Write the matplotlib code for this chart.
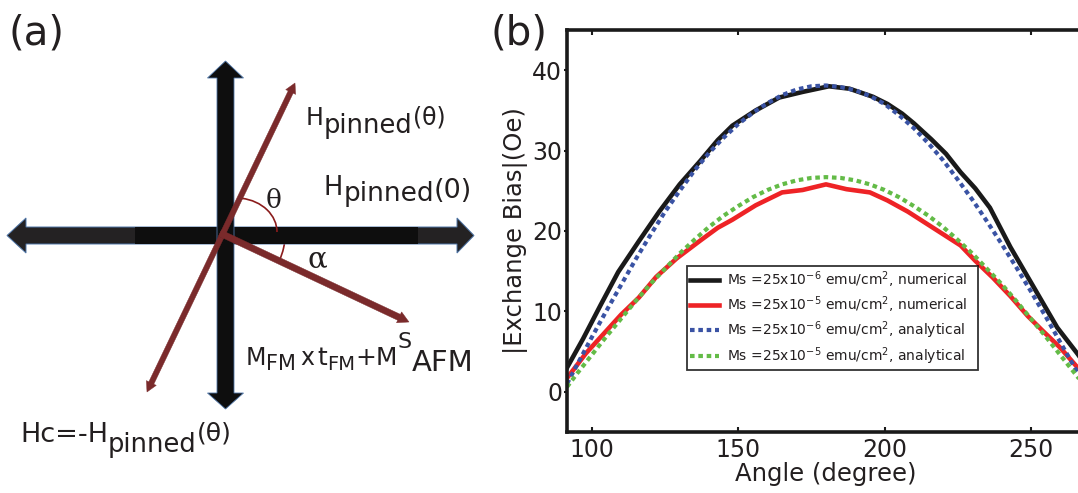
import numpy as np
import matplotlib
matplotlib.use("Agg")
import matplotlib.pyplot as plt
from matplotlib.patches import Polygon, Rectangle, FancyArrow, Arc

# ---- panel (b) data ----
ang_num_lo = [91.5, 97, 103, 109, 116, 123, 130, 137, 143, 148, 156, 164, 172, 181,
              188, 196, 201, 206, 210, 216, 221, 226, 231, 236, 243, 251, 259, 266, 268.5]
exb_num_lo = [3.0, 6.6, 10.8, 14.9, 18.7, 22.4, 25.8, 28.7, 31.3, 33.1, 35.0, 36.6, 37.3, 38.0,
              37.7, 36.7, 35.8, 34.6, 33.4, 31.4, 29.6, 27.3, 25.3, 22.9, 18.0, 13.0, 8.0, 4.7, 3.4]

ang_num_hi = [91.5, 98, 104, 110, 116, 122, 129, 137, 143, 148, 156, 165, 172, 180,
              187, 195, 201, 208, 217, 226, 231, 237, 243, 249, 254, 260, 266, 268.5]
exb_num_hi = [1.7, 4.8, 7.2, 9.6, 11.7, 14.3, 16.6, 18.8, 20.4, 21.4, 23.2, 24.8, 25.1, 25.8,
              25.2, 24.8, 23.8, 22.4, 20.3, 18.2, 16.3, 14.2, 11.9, 9.4, 7.6, 5.5, 3.0, 2.1]

ang_ana = [91.5, 95, 100, 105, 110, 115, 120, 125, 130, 135, 140, 145, 150, 155, 160, 165,
           170, 175, 180, 185, 190, 195, 200, 205, 210, 215, 220, 225, 230, 235, 240, 245,
           250, 255, 260, 265, 268.5]
exb_ana_lo = [1.0, 3.4, 6.8, 10.1, 13.3, 16.5, 19.5, 22.4, 25.0, 27.5, 29.7, 31.6, 33.3, 34.7,
              35.9, 36.9, 37.6, 38.0, 38.1, 37.9, 37.5, 36.8, 35.8, 34.4, 32.8, 30.9, 28.8, 26.4,
              23.9, 21.2, 18.4, 15.5, 12.5, 9.4, 6.2, 3.0, 1.0]
exb_ana_hi = [0.6, 2.3, 4.6, 6.9, 9.1, 11.3, 13.4, 15.3, 17.2, 18.9, 20.5, 21.9, 23.1, 24.2,
              25.1, 25.8, 26.3, 26.6, 26.7, 26.6, 26.3, 25.8, 25.1, 24.2, 23.1, 21.9, 20.5, 18.9,
              17.2, 15.3, 13.4, 11.3, 9.1, 6.9, 4.6, 2.3, 0.7]

labels = [r'Ms =25x10$^{-6}$ emu/cm$^2$, numerical',
          r'Ms =25x10$^{-5}$ emu/cm$^2$, numerical',
          r'Ms =25x10$^{-6}$ emu/cm$^2$, analytical',
          r'Ms =25x10$^{-5}$ emu/cm$^2$, analytical']
xticks = [100, 150, 200, 250]
yticks = [0, 10, 20, 30, 40]

tc = '#231f20'
brown = '#7a2a2b'

fig = plt.figure(figsize=(10.78, 4.93), dpi=100)

# ---- panel (a): diagram drawn in pixel coordinates ----
ax0 = fig.add_axes([0, 0, 1, 1])
ax0.set_xlim(0, 1078)
ax0.set_ylim(493, 0)
ax0.axis('off')

edge = '#4f76a8'
vert = [(225.5, 61), (243.5, 78), (234, 78), (234, 393), (243.5, 393), (225.5, 409),
        (207.5, 393), (217, 393), (217, 78), (207.5, 78)]
horz = [(7, 235.5), (26, 218), (26, 227), (457, 227), (457, 218), (474, 235.5),
        (457, 253), (457, 244), (26, 244), (26, 253)]
ax0.add_patch(Polygon(horz, closed=True, fc='#242223', ec=edge, lw=0.7, zorder=1))
ax0.add_patch(Rectangle((135, 227), 283, 17, fc='#0e0e0e', ec='none', zorder=1.1))
ax0.add_patch(Polygon(vert, closed=True, fc='#0e0e0e', ec=edge, lw=0.6, zorder=1.2))

# angle arcs
ax0.add_patch(Arc((225, 235), 120, 120, theta1=0, theta2=25, color='#8b1c1c', lw=1.2, zorder=0.5))
ax0.add_patch(Arc((236, 232), 82, 68, theta1=-80, theta2=0, color='#8b1c1c', lw=1.2, zorder=1.5))

# brown vectors
cx, cy = 221, 237.5
for tx, ty in [(295, 83), (147, 392)]:
    ax0.add_patch(FancyArrow(cx, cy, tx - cx, ty - cy, width=5.5, head_width=11, head_length=10,
                             length_includes_head=True, fc=brown, ec=brown, lw=0.3, zorder=3))
ax0.add_patch(FancyArrow(220, 233, 409 - 220, 322 - 233, width=6.5, head_width=12, head_length=11,
                         length_includes_head=True, fc=brown, ec=brown, lw=0.3, zorder=3))

ax0.text(274, 200, 'θ', fontsize=19, color=tc, ha='center', va='center', family='DejaVu Serif')
ax0.text(317, 259, 'α', fontsize=21, color=tc, ha='center', va='center', family='DejaVu Serif')

renderer = fig.canvas.get_renderer()


def rich(x, y, parts):
    # consecutive text pieces: (string, fontsize, baseline y)
    for s, size, by in parts:
        t = ax0.text(x, by, s, fontsize=size, color=tc, ha='left', va='baseline')
        x += t.get_window_extent(renderer).width


rich(306, 0, [('H', 17, 125), ('pinned', 18.5, 133), ('(θ)', 17, 124)])
rich(324, 0, [('H', 18.5, 195), ('pinned', 19, 201), ('(0)', 19.5, 198)])
rich(246, 0, [('M', 17, 365), ('FM', 15, 370), (' ', 9, 365), ('x', 17, 365), (' ', 7, 365),
              ('t', 18, 365), ('FM', 14, 370), ('+M', 18, 365), ('S', 16, 348),
              ('AFM', 21, 371)])
rich(20, 0, [('Hc=-H', 19.5, 442), ('pinned', 18.5, 452), ('(θ)', 18, 440)])

ax0.text(8, 34, '(a)', fontsize=29, color=tc, ha='left', va='center')
ax0.text(491, 34, '(b)', fontsize=29, color=tc, ha='left', va='center')

# ---- panel (b) ----
ax = fig.add_axes([567 / 1078, (493 - 432) / 493, (1085 - 567) / 1078, (432 - 30) / 493])
ax.plot(ang_num_lo, exb_num_lo, color='#1a1a1a', lw=3.3, label=labels[0])
ax.plot(ang_num_hi, exb_num_hi, color='#ee2326', lw=3.3, label=labels[1])
ax.plot(ang_ana, exb_ana_lo, color='#3a53a4', lw=3.0, ls=(0, (1.1, 0.9)), label=labels[2])
ax.plot(ang_ana, exb_ana_hi, color='#63bb47', lw=3.0, ls=(0, (1.1, 0.9)), label=labels[3])

ax.set_xlim(91.5, 268.5)
ax.set_ylim(-5, 45)
ax.set_xticks(xticks)
ax.set_yticks(yticks)
for sp in ax.spines.values():
    sp.set_linewidth(2.6)
    sp.set_color('#1a1a1a')
ax.tick_params(axis='x', direction='in', length=3.5, width=1.5, top=True, pad=4,
               labelsize=17, labelcolor=tc, color='#1a1a1a')
ax.tick_params(axis='y', direction='out', length=2.5, width=1.5, pad=1,
               labelsize=17, labelcolor=tc, color='#1a1a1a')
ax.set_xlabel('Angle (degree)', fontsize=17.5, color=tc, labelpad=0)
ax.set_ylabel('|Exchange Bias|(Oe)', fontsize=17.5, color=tc, labelpad=3)

leg = ax.legend(loc='lower left', bbox_to_anchor=(0.231, 0.154, 0.563, 0.257), mode='expand',
                borderaxespad=0, fontsize=10, frameon=True, fancybox=False, handlelength=2.1,
                handletextpad=0.55, labelspacing=0.3, borderpad=0.25)
leg.get_frame().set_edgecolor('black')
leg.get_frame().set_linewidth(1.3)
for t in leg.get_texts():
    t.set_color(tc)

fig.savefig('out.png', dpi=100)
